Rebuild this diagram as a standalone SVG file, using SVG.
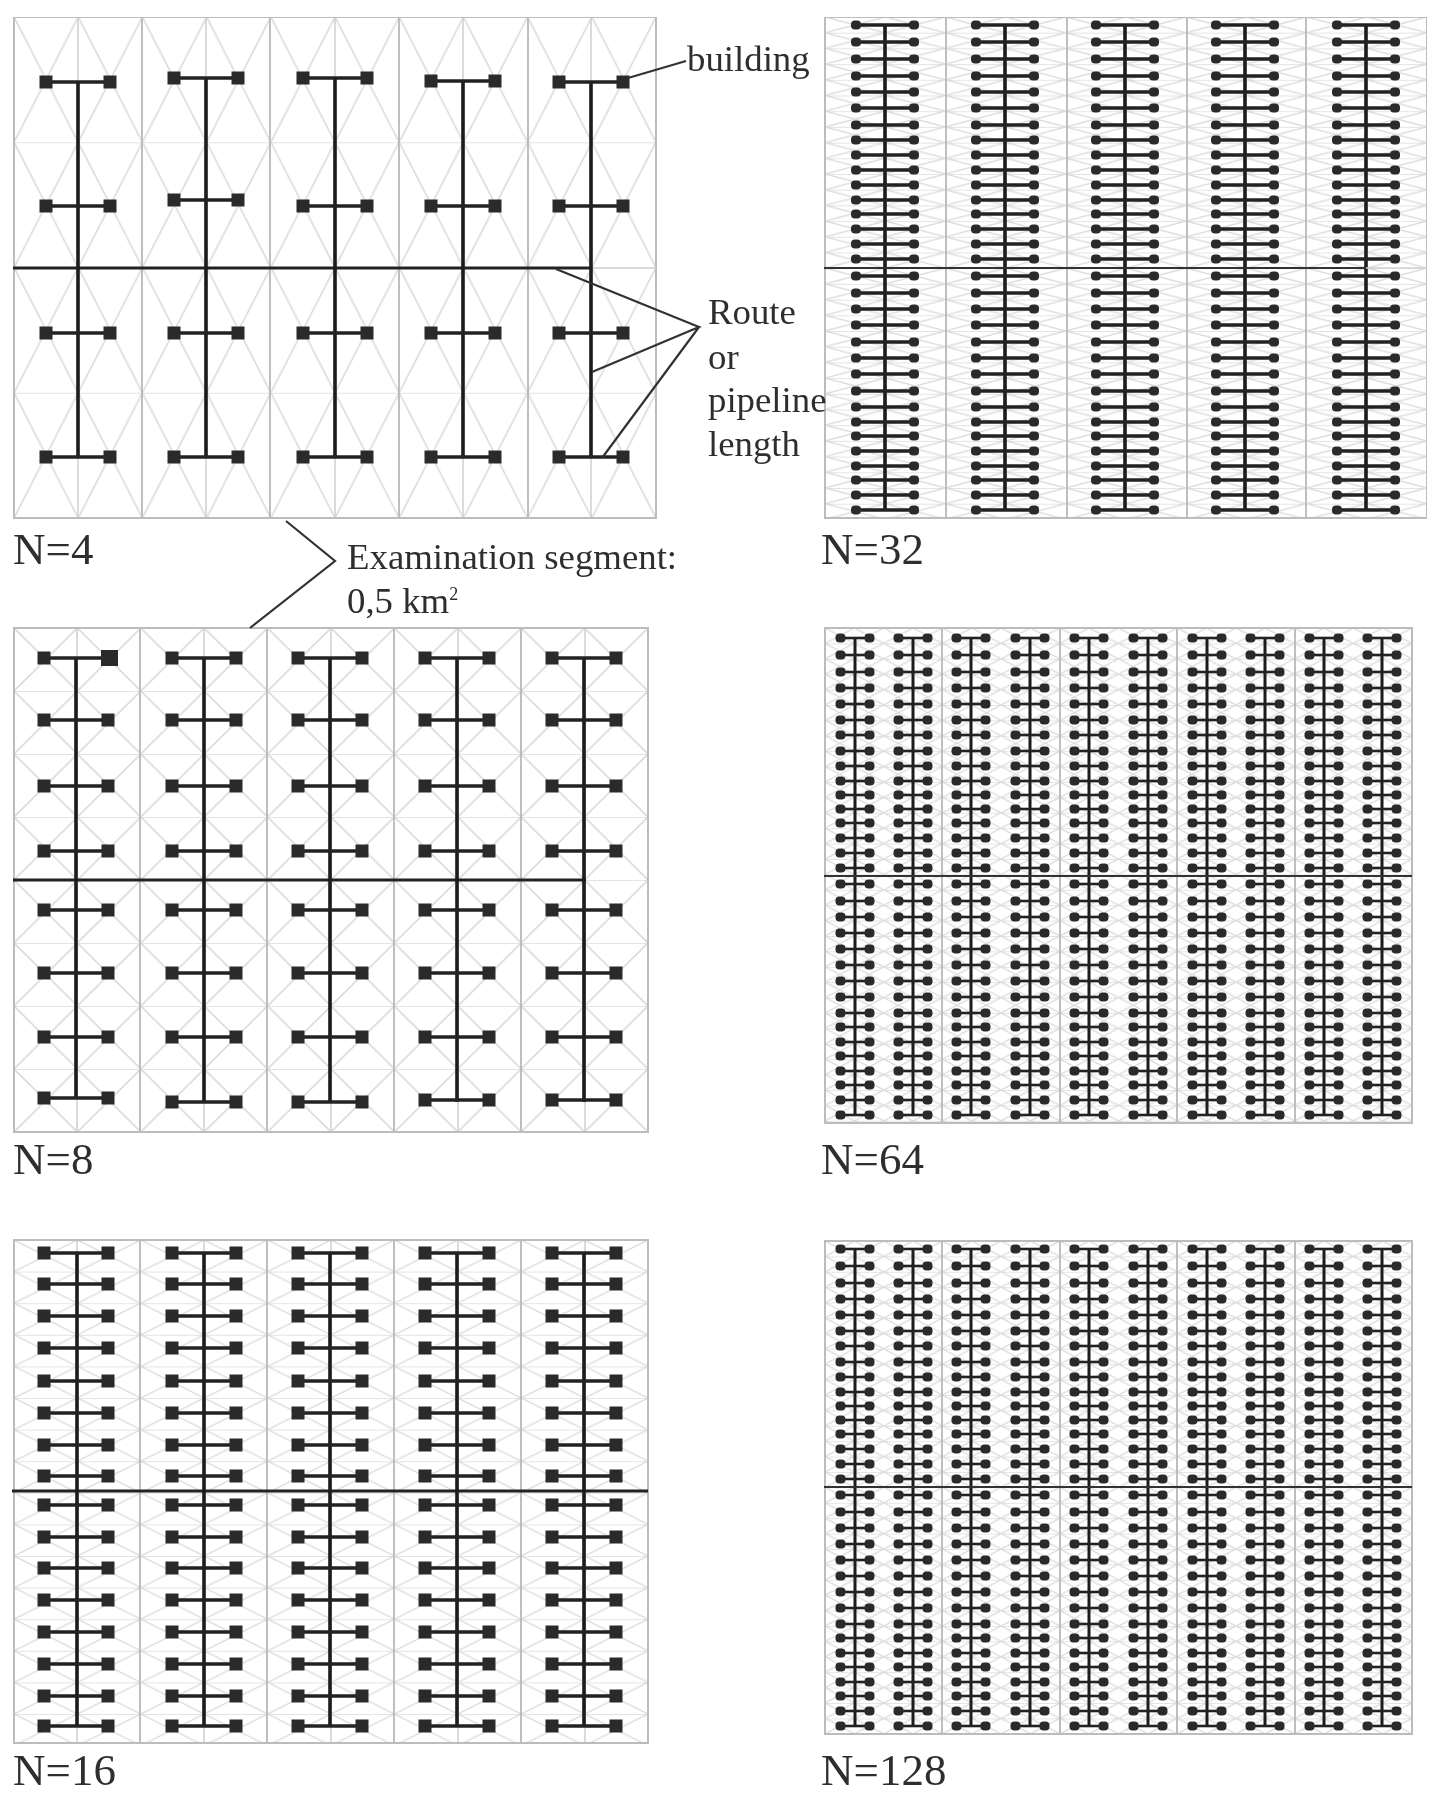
<svg xmlns="http://www.w3.org/2000/svg" width="1430" height="1797" viewBox="0 0 1430 1797">
<style>
text{font-family:"Liberation Serif","Times New Roman",serif;font-size:36.8px;fill:#2f2f2f}
text.n{font-size:45px}
.frame{fill:none;stroke:#bcbcbc;stroke-width:2}
.col{stroke:#b8b8b8;stroke-width:1.8;fill:none}
.mid{stroke:#d0d0d0;stroke-width:1.5;fill:none}
.x{fill:none;stroke:#dcdcdc;stroke-width:1.7}
.xd{fill:none;stroke:#dcdcdc;stroke-width:1.4}
.main{stroke:#222;stroke-width:3.2;fill:none}
.thin{stroke:#333;stroke-width:2.2;fill:none}
.stem{stroke:#1c1c1c;stroke-width:3.6;fill:none}
.stemd{stroke:#1c1c1c;stroke-width:3;fill:none}
.br{stroke:#222;stroke-width:3.3;fill:none}
.brd{stroke:#222;stroke-width:2.6;fill:none}
.sq{fill:#2a2a2a}
.lead{stroke:#333;stroke-width:2.2;fill:none}
</style>
<defs>
<filter id="soft" x="0" y="0" width="100%" height="100%"><feGaussianBlur stdDeviation="0.6"/></filter>
<pattern id="g4" patternUnits="userSpaceOnUse" x="14" y="17" width="64.2" height="125.25"><path class="x" d="M0 0L64.2 125.25M64.2 0L0 125.25M0 0H64.2"/></pattern>
<pattern id="g8" patternUnits="userSpaceOnUse" x="14" y="628" width="63.4" height="63"><path class="x" d="M0 0L63.4 63M63.4 0L0 63M0 0H63.4"/></pattern>
<pattern id="g16" patternUnits="userSpaceOnUse" x="14" y="1240" width="63.4" height="31.6"><path class="xd" d="M0 0L63.4 31.6M63.4 0L0 31.6M0 0H63.4"/></pattern>
<pattern id="g32" patternUnits="userSpaceOnUse" x="825" y="17" width="60.2" height="15.7"><path class="xd" d="M0 0L60.2 15.7M60.2 0L0 15.7M0 0H60.2"/></pattern>
<pattern id="g64" patternUnits="userSpaceOnUse" x="825" y="628" width="29.35" height="15.4"><path class="xd" d="M0 0L29.35 15.4M29.35 0L0 15.4M0 0H29.35"/></pattern>
<pattern id="g128" patternUnits="userSpaceOnUse" x="825" y="1241" width="29.35" height="15.4"><path class="xd" d="M0 0L29.35 15.4M29.35 0L0 15.4M0 0H29.35"/></pattern>
<g id="tee"><path class="br" d="M-32 0H32"/><rect class="sq" x="-38.5" y="-6.5" width="13" height="13"/><rect class="sq" x="25.5" y="-6.5" width="13" height="13"/></g>
<g id="tee32"><path class="brd" style="stroke-width:3.3" d="M-29 0H29"/><rect class="sq" x="-34" y="-4.5" width="10" height="9" rx="4"/><rect class="sq" x="24" y="-4.5" width="10" height="9" rx="4"/></g>
<g id="tee64"><path class="brd" d="M-14.5 0H14.5"/><rect class="sq" x="-19.5" y="-4.5" width="10" height="9" rx="4"/><rect class="sq" x="9.5" y="-4.5" width="10" height="9" rx="4"/></g>
<g id="r8"><use href="#tee" x="76"/><use href="#tee" x="204"/><use href="#tee" x="330"/><use href="#tee" x="457"/><use href="#tee" x="584"/></g>
<g id="r32"><use href="#tee32" x="885"/><use href="#tee32" x="1005"/><use href="#tee32" x="1125"/><use href="#tee32" x="1245"/><use href="#tee32" x="1366"/></g>
<g id="r64"><use href="#tee64" x="855"/><use href="#tee64" x="913"/><use href="#tee64" x="971"/><use href="#tee64" x="1030"/><use href="#tee64" x="1089"/><use href="#tee64" x="1148"/><use href="#tee64" x="1207"/><use href="#tee64" x="1265"/><use href="#tee64" x="1324"/><use href="#tee64" x="1382"/></g>
<g id="rows64">
<use href="#r64" y="638"/><use href="#r64" y="655"/><use href="#r64" y="672"/><use href="#r64" y="688"/><use href="#r64" y="704"/><use href="#r64" y="720"/><use href="#r64" y="735"/><use href="#r64" y="751"/><use href="#r64" y="766"/><use href="#r64" y="781"/><use href="#r64" y="795"/><use href="#r64" y="809"/><use href="#r64" y="823"/><use href="#r64" y="838"/><use href="#r64" y="853"/><use href="#r64" y="868"/>
<use href="#r64" y="884"/><use href="#r64" y="901"/><use href="#r64" y="917"/><use href="#r64" y="933"/><use href="#r64" y="949"/><use href="#r64" y="965"/><use href="#r64" y="981"/><use href="#r64" y="997"/><use href="#r64" y="1013"/><use href="#r64" y="1027"/><use href="#r64" y="1042"/><use href="#r64" y="1056"/><use href="#r64" y="1071"/><use href="#r64" y="1085"/><use href="#r64" y="1100"/><use href="#r64" y="1115"/>
</g>
<path id="stems64" class="stemd" d="M855 638V1115M913 638V1115M971 638V1115M1030 638V1115M1089 638V1115M1148 638V1115M1207 638V1115M1265 638V1115M1324 638V1115M1382 638V1115"/>
</defs>
<rect width="1430" height="1797" fill="#fff"/>
<g filter="url(#soft)">
<g id="panel-n4">
<rect x="14" y="17" width="642" height="501" fill="url(#g4)"/>
<path class="mid" d="M78 17V518M206 17V518M335 17V518M463 17V518M591 17V518"/>
<path class="col" d="M142 17V518M270 17V518M399 17V518M528 17V518"/>
<rect class="frame" x="14" y="17" width="642" height="501"/>
<path class="mid" d="M591 268H656"/>
<path class="main" d="M13 268H591"/>
<path class="stem" d="M78 82V457M206 78V457M335 78V457M463 81V457M591 82V457"/>
<use href="#tee" x="78" y="82"/><use href="#tee" x="206" y="78"/><use href="#tee" x="335" y="78"/><use href="#tee" x="463" y="81"/><use href="#tee" x="591" y="82"/>
<use href="#tee" x="78" y="206"/><use href="#tee" x="206" y="200"/><use href="#tee" x="335" y="206"/><use href="#tee" x="463" y="206"/><use href="#tee" x="591" y="206"/>
<use href="#tee" x="78" y="333"/><use href="#tee" x="206" y="333"/><use href="#tee" x="335" y="333"/><use href="#tee" x="463" y="333"/><use href="#tee" x="591" y="333"/>
<use href="#tee" x="78" y="457"/><use href="#tee" x="206" y="457"/><use href="#tee" x="335" y="457"/><use href="#tee" x="463" y="457"/><use href="#tee" x="591" y="457"/>
<text class="n" x="13" y="564">N=4</text>
</g>
<g id="panel-n8">
<rect x="14" y="628" width="634" height="504" fill="url(#g8)"/>
<path class="mid" d="M77 628V1132M204 628V1132M331 628V1132M458 628V1132M585 628V1132"/>
<path class="col" d="M140 628V1132M267 628V1132M394 628V1132M521 628V1132"/>
<rect class="frame" x="14" y="628" width="634" height="504"/>
<path class="main" d="M13 880H586"/>
<path class="stem" d="M76 658V1097M204 658V1102M330 658V1102M457 658V1102M584 658V1102"/>
<use href="#r8" y="658"/><use href="#r8" y="720"/><use href="#r8" y="786"/><use href="#r8" y="851"/><use href="#r8" y="910"/><use href="#r8" y="973"/><use href="#r8" y="1037"/>
<use href="#tee" x="76" y="1098"/><use href="#tee" x="204" y="1102"/><use href="#tee" x="330" y="1102"/><use href="#tee" x="457" y="1100"/><use href="#tee" x="584" y="1100"/>
<rect class="sq" x="101" y="650" width="17" height="16"/>
<text class="n" x="13" y="1174">N=8</text>
</g>
<g id="panel-n16">
<rect x="14" y="1240" width="634" height="503" fill="url(#g16)"/>
<path class="mid" d="M77 1240V1743M204 1240V1743M331 1240V1743M458 1240V1743M585 1240V1743"/>
<path class="col" d="M140 1240V1743M267 1240V1743M394 1240V1743M521 1240V1743"/>
<rect class="frame" x="14" y="1240" width="634" height="503"/>
<path class="main" d="M12 1491H648"/>
<path class="stem" d="M77 1253V1726M204 1253V1726M330 1253V1726M457 1253V1726M584 1253V1726"/>
<use href="#r8" y="1253"/><use href="#r8" y="1284"/><use href="#r8" y="1316"/><use href="#r8" y="1348"/><use href="#r8" y="1381"/><use href="#r8" y="1413"/><use href="#r8" y="1445"/><use href="#r8" y="1476"/>
<use href="#r8" y="1505"/><use href="#r8" y="1537"/><use href="#r8" y="1568"/><use href="#r8" y="1600"/><use href="#r8" y="1632"/><use href="#r8" y="1664"/><use href="#r8" y="1696"/><use href="#r8" y="1726"/>
<text class="n" x="13" y="1785">N=16</text>
</g>
<g id="panel-n32">
<rect x="825" y="17" width="602" height="501" fill="url(#g32)"/>
<path class="col" d="M946 17V518M1067 17V518M1187 17V518M1306 17V518"/>
<rect class="frame" x="825" y="17" width="602" height="501"/>
<path class="stem" d="M885 25V510M1005 25V510M1125 25V510M1245 25V510M1366 25V510"/>
<use href="#r32" y="25"/><use href="#r32" y="42"/><use href="#r32" y="59"/><use href="#r32" y="76"/><use href="#r32" y="92"/><use href="#r32" y="108"/><use href="#r32" y="125"/><use href="#r32" y="140"/><use href="#r32" y="155"/><use href="#r32" y="170"/><use href="#r32" y="185"/><use href="#r32" y="200"/><use href="#r32" y="214"/><use href="#r32" y="229"/><use href="#r32" y="244"/><use href="#r32" y="259"/>
<use href="#r32" y="276"/><use href="#r32" y="293"/><use href="#r32" y="309"/><use href="#r32" y="325"/><use href="#r32" y="342"/><use href="#r32" y="358"/><use href="#r32" y="374"/><use href="#r32" y="391"/><use href="#r32" y="407"/><use href="#r32" y="422"/><use href="#r32" y="436"/><use href="#r32" y="451"/><use href="#r32" y="466"/><use href="#r32" y="480"/><use href="#r32" y="495"/><use href="#r32" y="510"/>
<path class="thin" d="M824 268H1366"/>
<path class="mid" d="M1366 268H1427"/>
<text class="n" x="821" y="564">N=32</text>
</g>
<g id="panel-n64">
<rect x="825" y="628" width="587" height="495" fill="url(#g64)"/>
<path class="col" d="M942 628V1123M1060 628V1123M1177 628V1123M1295 628V1123"/>
<rect class="frame" x="825" y="628" width="587" height="495"/>
<use href="#stems64"/>
<use href="#rows64"/>
<path class="thin" d="M824 876H1412"/>
<text class="n" x="821" y="1174">N=64</text>
</g>
<g id="panel-n128">
<rect x="825" y="1241" width="587" height="493" fill="url(#g128)"/>
<path class="col" d="M942 1241V1734M1060 1241V1734M1177 1241V1734M1295 1241V1734"/>
<rect class="frame" x="825" y="1241" width="587" height="493"/>
<use href="#stems64" y="611"/>
<use href="#rows64" y="611"/>
<path class="thin" d="M824 1487H1412"/>
<text class="n" x="821" y="1785">N=128</text>
</g>
<g id="connectors">
<path class="lead" d="M628 78L686 61"/>
<path class="lead" d="M556 269L699 327L592 372M699 327L602 458"/>
<path class="lead" d="M286 521L335 561L250 628"/>
</g>
<g id="labels">
<text x="687" y="71">building</text>
<text x="708" y="324">Route</text>
<text x="708" y="369">or</text>
<text x="708" y="412">pipeline</text>
<text x="708" y="456">length</text>
<text x="347" y="569">Examination segment:</text>
<text x="347" y="613">0,5 km<tspan dy="-13" style="font-size:18px">2</tspan></text>
</g>
</g>
</svg>
